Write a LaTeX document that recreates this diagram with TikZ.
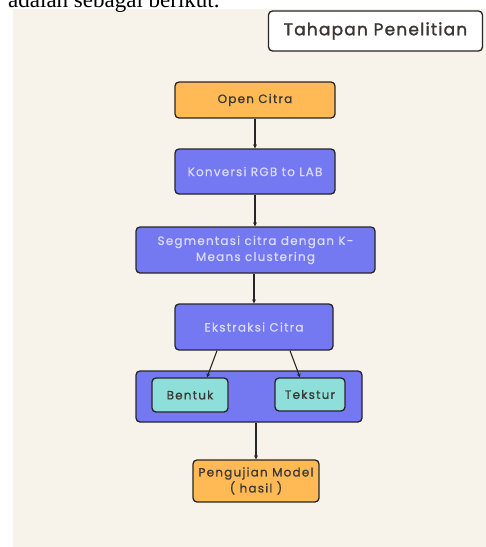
\documentclass[tikz,border=0pt]{standalone}
\usepackage{fontspec}
\setmainfont{Liberation Serif}
\newfontfamily\boxfont[LetterSpace=10,FakeBold=0.8]{Poppins}
\newfontfamily\titlefont[LetterSpace=7,FakeBold=1.6]{Poppins}
\usetikzlibrary{arrows.meta,calc}

\definecolor{paper}{HTML}{F7F2EA}
\definecolor{citraorange}{HTML}{FFBA55}
\definecolor{citrablue}{HTML}{7479F2}
\definecolor{citrateal}{HTML}{8EDFDA}
\definecolor{bluetext}{HTML}{D8DAFF}
\definecolor{darktext}{HTML}{3A3833}

\begin{document}
\begin{tikzpicture}[x=1pt,y=-1pt,
  box/.style={draw=black!85, line width=1.3pt, rounded corners=4pt,
    inner sep=0pt, align=center, font=\boxfont\fontsize{12}{16}\selectfont},
  orangebox/.style={box, fill=citraorange, text=darktext},
  bluebox/.style={box, fill=citrablue, text=bluetext},
  tealbox/.style={box, fill=citrateal, text=darktext},
  flow/.style={draw=black!85, line width=1.1pt, -{Stealth[length=4pt,width=4pt]}}]

  \clip (0,0) rectangle (486,547);
  \fill[paper] (13,9) rectangle (486,547);

  % lead-in text, cut at the top
  \node[anchor=base west, inner sep=0pt, font=\fontsize{23}{26}\selectfont]
    (intro) at (8,7.5) {adalah sebagai berikut.};

  \node[box, fill=white, text=darktext, minimum width=214pt, minimum height=40pt,
    font=\titlefont\fontsize{17}{19}\selectfont] (title) at (375.5,31) {Tahapan Penelitian};

  \node[orangebox, minimum width=160pt, minimum height=36pt] (open) at (255,100) {Open Citra};
  \node[bluebox, minimum width=160pt, minimum height=45pt] (konv) at (255,171.5) {Konversi RGB to LAB};
  \node[bluebox, minimum width=239pt, minimum height=46pt] (segm) at (255.5,250)
    {Segmentasi citra dengan K-\\Means clustering};
  \node[bluebox, minimum width=158pt, minimum height=46pt] (ekstr) at (254,327) {Ekstraksi Citra};

  \node[bluebox, minimum width=226pt, minimum height=51pt] (fitur) at (249,396.5) {};
  \node[tealbox, minimum width=76pt, minimum height=34pt] (bentuk) at (190,395) {Bentuk};
  \node[tealbox, minimum width=70pt, minimum height=33pt] (tekstur) at (310,394.5) {Tekstur};

  \node[orangebox, minimum width=126pt, minimum height=42pt] (uji) at (256,481)
    {Pengujian Model\\( hasil )};

  \draw[flow] (open.south) -- (konv.north);
  \draw[flow] (konv.south) -- (konv.south |- segm.north);
  \draw[flow] (ekstr.north |- segm.south) -- (ekstr.north);
  \draw[flow] ($(ekstr.south)+(-37,0)$) -- ($(bentuk.north)+(17,0)$);
  \draw[flow] ($(ekstr.south)+(36,0)$) -- ($(tekstur.north)+(-10,0)$);
  \draw[flow] (uji.north |- fitur.south) -- (uji.north);

\end{tikzpicture}
\end{document}
